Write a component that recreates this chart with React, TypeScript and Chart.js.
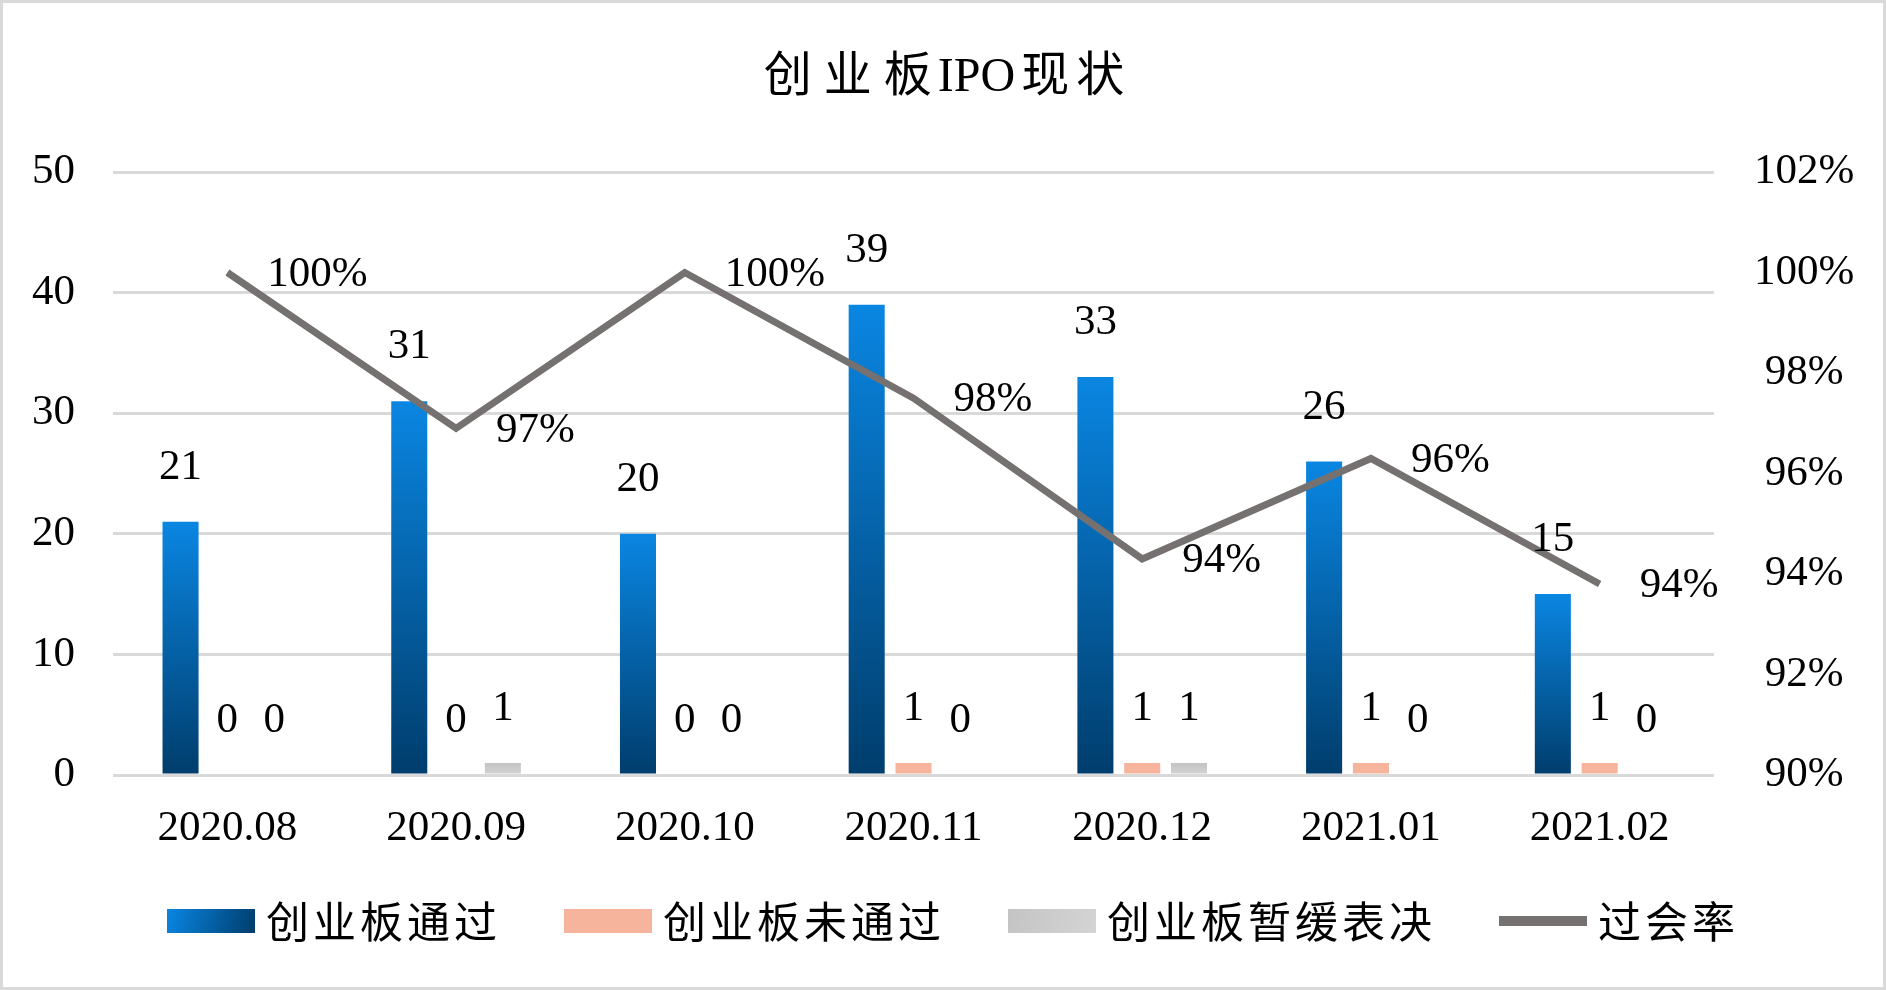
import React, { useEffect, useRef } from 'react';
import { Chart, registerables } from 'chart.js';

Chart.register(...registerables);

// ---------- data ----------
const titleParts = ['创业板', 'IPO', '现状'];
const categories = ['2020.08', '2020.09', '2020.10', '2020.11', '2020.12', '2021.01', '2021.02'];
const seriesNames = ['创业板通过', '创业板未通过', '创业板暂缓表决', '过会率'];
const passed = [21, 31, 20, 39, 33, 26, 15];
const rejected = [0, 0, 0, 1, 1, 1, 1];
const deferred = [0, 1, 0, 0, 1, 0, 0];
const passRate = [100, 96.9, 100, 97.5, 94.3, 96.3, 93.8];
const leftAxisRange = [0, 50, 10]; // min, max, step
const rightAxisRange = [90, 102, 2]; // min, max, step (percent)

// ---------- style ----------
const W = 1886;
const H = 990;
const LATIN = '"Liberation Serif", "Times New Roman", serif';
const CJK = '"Noto Sans CJK SC", "Noto Sans CJK TC", sans-serif';
const MIXED = '"Liberation Serif", "Noto Sans CJK SC", serif';
const BLUE_TOP = '#0A86E2';
const BLUE_BOTTOM = '#003D6C';
const ORANGE = '#F5B49B';
const GRAY_TOP = '#C4C4C4';
const GRAY_BOTTOM = '#D4D4D4';
const LINE = '#767171';
const GRID = '#D9D9D9';

const makeGradient = (top: string, bottom: string) => (c: any) => {
  const chart = c.chart;
  const area = chart.chartArea;
  if (!area || c.type !== 'data') return top;
  const ys = chart.scales.y;
  const yTop = ys.getPixelForValue(c.raw as number);
  const yBottom = ys.getPixelForValue(0);
  if (!isFinite(yTop) || yBottom - yTop < 1) return top;
  const g = chart.ctx.createLinearGradient(0, yTop, 0, yBottom);
  g.addColorStop(0, top);
  g.addColorStop(1, bottom);
  return g;
};

const setSpacing = (ctx: any, px: number) => {
  ctx.letterSpacing = `${px}px`;
};

const decorPlugin = {
  id: 'decor',
  beforeDraw(chart: any) {
    const ctx = chart.ctx;
    ctx.save();
    ctx.fillStyle = '#ffffff';
    ctx.fillRect(0, 0, chart.width, chart.height);
    ctx.restore();
  },
  afterDatasetsDraw(chart: any) {
    const ctx = chart.ctx;
    ctx.save();
    ctx.fillStyle = '#000000';
    ctx.font = `43px ${LATIN}`;
    ctx.textBaseline = 'middle';
    chart.data.datasets.forEach((ds: any, i: number) => {
      const meta = chart.getDatasetMeta(i);
      meta.data.forEach((el: any, j: number) => {
        const v = ds.data[j] as number;
        if (ds.type === 'line') {
          ctx.textAlign = 'left';
          ctx.fillText(`${Math.round(v)}%`, el.x + 40, el.y + 2);
        } else {
          ctx.textAlign = 'center';
          ctx.fillText(String(v), el.x, el.y - 54);
        }
      });
    });
    ctx.restore();
  },
  afterDraw(chart: any) {
    const ctx = chart.ctx;
    ctx.save();
    // title, drawn in parts: spaced CJK, tight Latin
    ctx.fillStyle = '#000000';
    ctx.font = `48px ${MIXED}`;
    ctx.textBaseline = 'middle';
    ctx.textAlign = 'left';
    const spacings = [12, 0, 7];
    const gaps = [0, 6, 6];
    const partW = titleParts.map((p, i) => {
      setSpacing(ctx, spacings[i]);
      return ctx.measureText(p).width - spacings[i];
    });
    const totalTitle = partW.reduce((a, b) => a + b, 0) + gaps.reduce((a, b) => a + b, 0);
    let tx = 944 - totalTitle / 2;
    titleParts.forEach((p, i) => {
      tx += gaps[i];
      setSpacing(ctx, spacings[i]);
      ctx.fillText(p, tx, 78);
      tx += partW[i];
    });

    // legend
    ctx.font = `43px ${CJK}`;
    const ls = 4;
    setSpacing(ctx, ls);
    const swW = 88;
    const swGap = 11;
    const itemGap = 67;
    const widths = seriesNames.map((n) => ctx.measureText(n).width - ls);
    const total = widths.reduce((a, b) => a + b, 0) + seriesNames.length * (swW + swGap) + (seriesNames.length - 1) * itemGap;
    let x = 951 - total / 2;
    const cy = 921;
    seriesNames.forEach((name, i) => {
      if (i === 0) {
        const g = ctx.createLinearGradient(x, cy - 12, x + swW, cy + 12);
        g.addColorStop(0, BLUE_TOP);
        g.addColorStop(1, BLUE_BOTTOM);
        ctx.fillStyle = g;
        ctx.fillRect(x, cy - 12, swW, 24);
      } else if (i === 1) {
        ctx.fillStyle = ORANGE;
        ctx.fillRect(x, cy - 12, swW, 24);
      } else if (i === 2) {
        const g = ctx.createLinearGradient(x, cy - 12, x + swW, cy + 12);
        g.addColorStop(0, GRAY_TOP);
        g.addColorStop(1, GRAY_BOTTOM);
        ctx.fillStyle = g;
        ctx.fillRect(x, cy - 12, swW, 24);
      } else {
        ctx.fillStyle = LINE;
        ctx.fillRect(x, cy - 5, swW, 10);
      }
      x += swW + swGap;
      ctx.fillStyle = '#000000';
      ctx.fillText(name, x, cy + 1);
      x += widths[i] + itemGap;
    });
    setSpacing(ctx, 0);

    // border
    ctx.strokeStyle = GRID;
    ctx.lineWidth = 3;
    ctx.strokeRect(1.5, 1.5, chart.width - 3, chart.height - 3);
    ctx.restore();
  },
};

export default function App() {
  const ref = useRef<HTMLCanvasElement | null>(null);

  useEffect(() => {
    document.body.style.margin = '0';
    if (!ref.current) return;
    const chart = new Chart(ref.current, {
      type: 'bar',
      data: {
        labels: categories,
        datasets: [
          {
            type: 'bar',
            label: seriesNames[0],
            data: passed,
            backgroundColor: makeGradient(BLUE_TOP, BLUE_BOTTOM),
            yAxisID: 'y',
            order: 1,
            categoryPercentage: 0.614,
            barPercentage: 0.77,
          },
          {
            type: 'bar',
            label: seriesNames[1],
            data: rejected,
            backgroundColor: ORANGE,
            yAxisID: 'y',
            order: 1,
            categoryPercentage: 0.614,
            barPercentage: 0.77,
          },
          {
            type: 'bar',
            label: seriesNames[2],
            data: deferred,
            backgroundColor: makeGradient(GRAY_TOP, GRAY_BOTTOM),
            yAxisID: 'y',
            order: 1,
            categoryPercentage: 0.614,
            barPercentage: 0.77,
          },
          {
            type: 'line',
            label: seriesNames[3],
            data: passRate,
            borderColor: LINE,
            backgroundColor: LINE,
            borderWidth: 7,
            pointRadius: 0,
            pointHoverRadius: 0,
            tension: 0,
            borderJoinStyle: 'miter',
            borderCapStyle: 'butt',
            fill: false,
            yAxisID: 'y1',
            order: 0,
          } as any,
        ],
      },
      options: {
        animation: false,
        responsive: false,
        maintainAspectRatio: false,
        devicePixelRatio: 1,
        layout: { padding: { top: 172, left: 0, right: 0, bottom: 135 } },
        plugins: {
          legend: { display: false },
          title: { display: false },
          tooltip: { enabled: false },
        },
        scales: {
          x: {
            grid: { display: false, drawTicks: false },
            border: { display: false },
            ticks: {
              color: '#000000',
              font: { family: LATIN, size: 43 },
              padding: 28,
              maxRotation: 0,
              autoSkip: false,
            },
            afterFit: (s: any) => {
              s.height = 80;
            },
          },
          y: {
            position: 'left',
            min: leftAxisRange[0],
            max: leftAxisRange[1],
            grid: { color: GRID, lineWidth: 3, drawTicks: false },
            border: { display: false },
            ticks: {
              stepSize: leftAxisRange[2],
              color: '#000000',
              font: { family: LATIN, size: 43 },
              padding: 38,
            },
            afterFit: (s: any) => {
              s.width = 113;
            },
          },
          y1: {
            position: 'right',
            min: rightAxisRange[0],
            max: rightAxisRange[1],
            grid: { display: false, drawTicks: false },
            border: { display: false },
            ticks: {
              stepSize: rightAxisRange[2],
              color: '#000000',
              font: { family: LATIN, size: 43 },
              padding: 40,
              crossAlign: 'center',
              callback: (v: any) => `${v}%`,
            },
            afterFit: (s: any) => {
              s.width = W - 1714;
            },
          },
        },
      },
      plugins: [decorPlugin],
    } as any);
    return () => chart.destroy();
  }, []);

  return (
    <div style={{ width: W, height: H }}>
      <canvas ref={ref} width={W} height={H} style={{ display: 'block', width: W, height: H }} />
    </div>
  );
}
